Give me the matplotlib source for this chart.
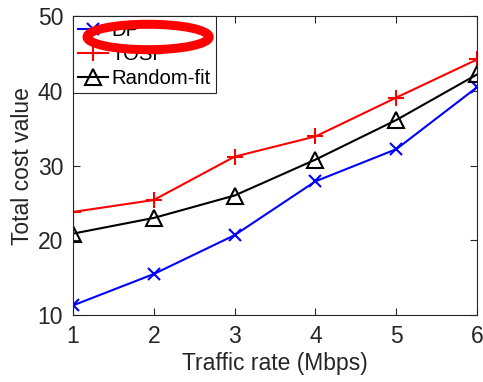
import matplotlib.pyplot as plt
from matplotlib.patches import Ellipse

plt.rcParams['font.family'] = ['Liberation Sans', 'DejaVu Sans']

rate = [1, 2, 3, 4, 5, 6]
dp = [11.3, 15.5, 20.7, 27.9, 32.2, 40.5]
tosp = [23.8, 25.4, 31.2, 33.9, 39.1, 44.2]
random_fit = [20.9, 23.0, 26.0, 30.8, 36.1, 42.2]

txt = '#262626'

fig = plt.figure(figsize=(4.83, 3.82), dpi=100)
ax = fig.add_axes([0.151, 0.175, 0.837, 0.783])

ax.plot(rate, dp, color='blue', marker='x', ms=9, mew=1.5, lw=1.5, label='DP')
ax.plot(rate, tosp, color='red', marker='+', ms=12, mew=1.5, lw=1.5, label='TOSP')
ax.plot(rate, random_fit, color='black', marker='^', ms=11, mew=1.5, mfc='none',
        lw=1.5, label='Random-fit')

ax.set_xlim(1, 6)
ax.set_ylim(10, 50)
ax.set_xticks(rate)
ax.set_yticks([10, 20, 30, 40, 50])
ax.tick_params(direction='in', top=True, right=True, labelsize=16.5, colors=txt,
               length=5, pad=7)
for s in ax.spines.values():
    s.set_color(txt)
    s.set_linewidth(0.8)
ax.set_xlabel('Traffic rate (Mbps)', fontsize=16.5, color=txt, labelpad=3)
ax.set_ylabel('Total cost value', fontsize=16.5, color=txt, labelpad=3)

leg = ax.legend(loc='upper left', fontsize=14.6, borderaxespad=0, handlelength=1.5,
                handletextpad=0.15, borderpad=0.25, labelspacing=0.25, fancybox=False,
                framealpha=1)
leg.get_frame().set_edgecolor(txt)
leg.get_frame().set_linewidth(0.8)

# red ellipse marking drawn over the legend
ax.add_patch(Ellipse((0.186, 0.93), 0.302, 0.085, transform=ax.transAxes,
                     fill=False, edgecolor='red', lw=6.5, clip_on=False, zorder=10))

fig.savefig('out.png', dpi=100)
